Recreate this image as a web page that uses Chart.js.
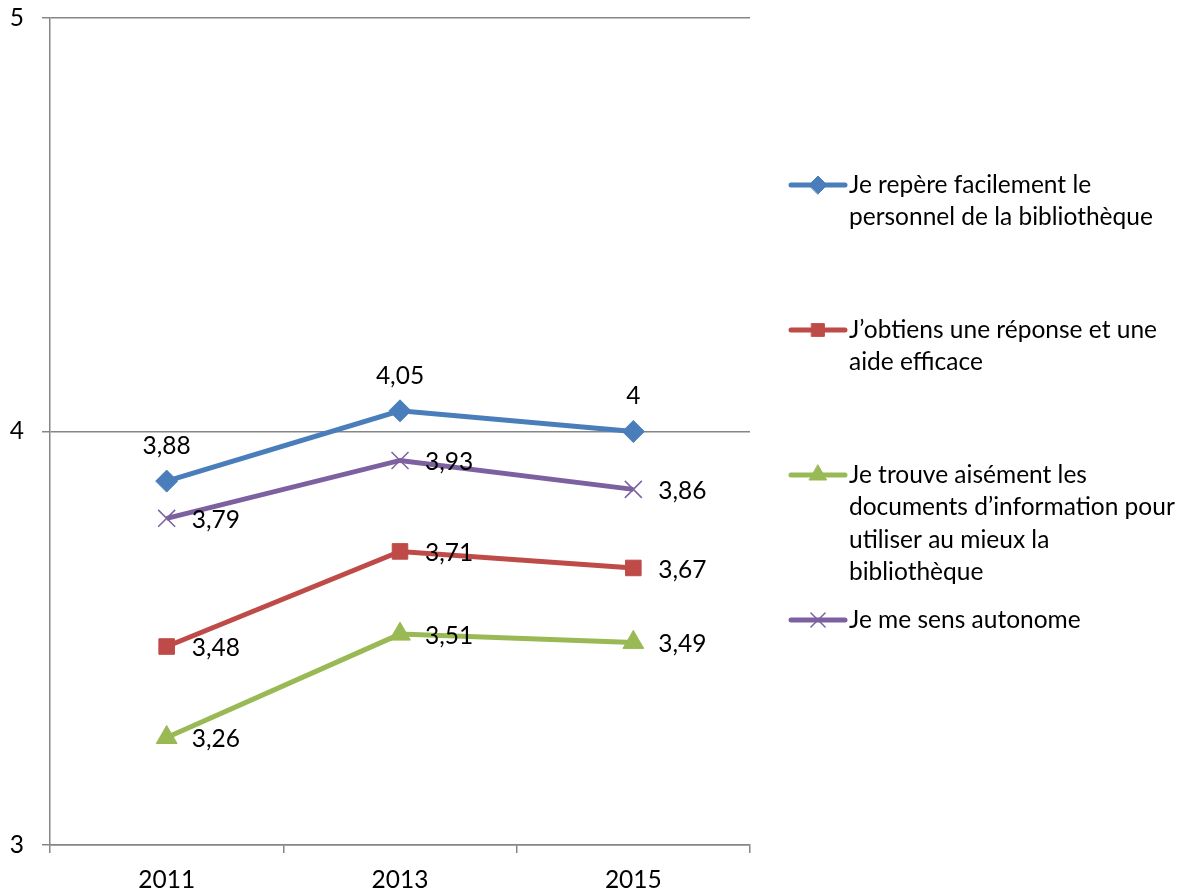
<!DOCTYPE html>
<html>
<head>
<meta charset="utf-8">
<script src="https://cdn.jsdelivr.net/npm/chart.js@4/dist/chart.umd.min.js"></script>
<style>
  html, body { margin: 0; padding: 0; background: #fff; }
  #wrap { width: 1188px; height: 888px; position: relative; }
</style>
</head>
<body>
<div id="wrap"><canvas id="graph"></canvas></div>
<script>
const annees = ['2011', '2013', '2015'];
const repere = [3.88, 4.05, 4];
const reponse = [3.48, 3.71, 3.67];
const documents = [3.26, 3.51, 3.49];
const autonome = [3.79, 3.93, 3.86];
const yTicks = [3, 4, 5];

const legendes = [
  ['Je repère facilement le', 'personnel de la bibliothèque'],
  ['J’obtiens une réponse et une', 'aide efficace'],
  ['Je trouve aisément les', 'documents d’information pour', 'utiliser au mieux la', 'bibliothèque'],
  ['Je me sens autonome']
];

const police = 'Lato, "Open Sans", sans-serif';
const taille = 24.5;
const gris = '#868686';

function serie(label, data, couleur, style, rayon, pos) {
  return {
    label: label,
    data: data,
    borderColor: couleur,
    backgroundColor: couleur,
    pointBackgroundColor: couleur,
    pointBorderColor: couleur,
    borderWidth: 5,
    pointStyle: style,
    pointRadius: rayon,
    pointBorderWidth: style === 'crossRot' ? 1.5 : 1,
    tension: 0,
    etiquette: pos
  };
}

// etiquettes de valeurs
const etiquettes = {
  id: 'etiquettes',
  afterDatasetsDraw(chart) {
    const ctx = chart.ctx;
    ctx.save();
    ctx.font = taille + 'px ' + police;
    ctx.fillStyle = '#000';
    chart.data.datasets.forEach((ds, i) => {
      const meta = chart.getDatasetMeta(i);
      meta.data.forEach((pt, j) => {
        const txt = String(ds.data[j]).replace('.', ',');
        if (ds.etiquette === 'haut') {
          ctx.textAlign = 'center';
          ctx.textBaseline = 'middle';
          ctx.fillText(txt, pt.x, pt.y - 35);
        } else {
          ctx.textAlign = 'left';
          ctx.textBaseline = 'middle';
          ctx.fillText(txt, pt.x + 25, pt.y + 2);
        }
      });
    });
    ctx.restore();
  }
};

// legende a droite, texte sur plusieurs lignes
const legende = {
  id: 'legende',
  afterDraw(chart) {
    const ctx = chart.ctx;
    ctx.save();
    ctx.font = taille + 'px ' + police;
    ctx.textAlign = 'left';
    ctx.textBaseline = 'middle';
    chart.data.datasets.forEach((ds, i) => {
      const y = 185 + i * 145;
      ctx.strokeStyle = ds.borderColor;
      ctx.lineWidth = 5;
      ctx.lineCap = 'round';
      ctx.beginPath();
      ctx.moveTo(791, y);
      ctx.lineTo(845, y);
      ctx.stroke();
      ctx.fillStyle = ds.borderColor;
      ctx.lineWidth = ds.pointBorderWidth;
      Chart.helpers.drawPoint(ctx, {
        pointStyle: ds.pointStyle,
        radius: ds.pointRadius - 2,
        borderWidth: ds.pointBorderWidth
      }, 818, y);
      ctx.fillStyle = '#000';
      legendes[i].forEach((ligne, k) => {
        ctx.fillText(ligne, 849, y + k * 32.5);
      });
    });
    ctx.restore();
  }
};

new Chart(document.getElementById('graph'), {
  type: 'line',
  data: {
    labels: annees,
    datasets: [
      serie(legendes[0].join(' '), repere, '#4A7EBB', 'rectRot', 11, 'haut'),
      serie(legendes[1].join(' '), reponse, '#BE4B48', 'rect', 11, 'droite'),
      serie(legendes[2].join(' '), documents, '#98B954', 'triangle', 12, 'droite'),
      serie(legendes[3].join(' '), autonome, '#7D60A0', 'crossRot', 12, 'droite')
    ]
  },
  options: {
    responsive: true,
    maintainAspectRatio: false,
    animation: false,
    layout: { padding: { top: 18, right: 438, left: 0, bottom: 0 } },
    plugins: {
      legend: { display: false },
      tooltip: { enabled: false }
    },
    scales: {
      x: {
        offset: true,
        grid: { offset: true, drawOnChartArea: false, color: gris, tickLength: 8, lineWidth: 1.5 },
        border: { color: gris, width: 1.5 },
        ticks: { color: '#000', font: { size: taille, family: police }, padding: 12, maxRotation: 0 },
        afterFit(s) { s.height = 43; }
      },
      y: {
        min: 3,
        max: 5,
        afterBuildTicks(s) { s.ticks = yTicks.map(v => ({ value: v })); },
        grid: { color: gris, tickLength: 8, lineWidth: 1.5 },
        border: { color: gris, width: 1.5 },
        ticks: { color: '#000', font: { size: taille, family: police }, padding: 18 },
        afterFit(s) { s.width = 50; s.paddingTop = 0; s.paddingBottom = 0; }
      }
    }
  },
  plugins: [etiquettes, legende]
});
</script>
</body>
</html>
